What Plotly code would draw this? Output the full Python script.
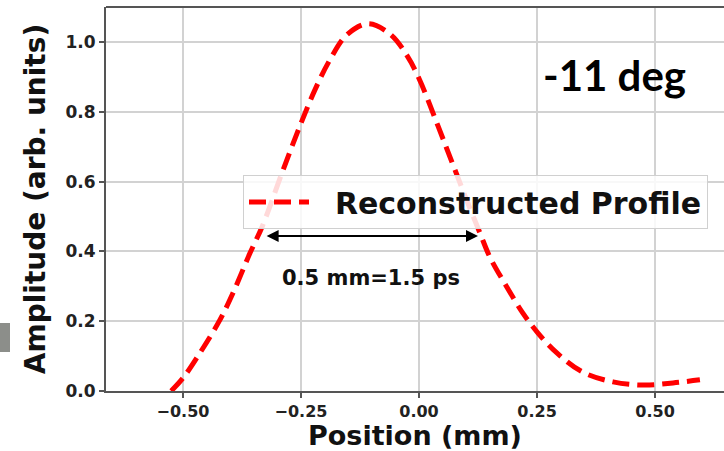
import plotly.graph_objects as go

# Data
pos_mm = [-0.525, -0.5, -0.464, -0.422, -0.394, -0.358, -0.331, -0.288, -0.25, -0.22,
          -0.189, -0.153, -0.108, -0.061, -0.025, 0.0, 0.04, 0.07, 0.10, 0.129,
          0.150, 0.186, 0.220, 0.252, 0.292, 0.347, 0.411, 0.475, 0.538, 0.595]
amplitude = [0.0, 0.037, 0.109, 0.203, 0.281, 0.395, 0.475, 0.633, 0.767, 0.864,
             0.948, 1.02, 1.052, 1.022, 0.96, 0.895, 0.76, 0.655, 0.55, 0.453,
             0.384, 0.298, 0.223, 0.166, 0.109, 0.054, 0.026, 0.017, 0.023, 0.032]

x_ticks = [-0.50, -0.25, 0.00, 0.25, 0.50]
x_tick_labels = ["\u22120.50", "\u22120.25", "0.00", "0.25", "0.50"]
y_ticks = [0.0, 0.2, 0.4, 0.6, 0.8, 1.0]
y_tick_labels = ["0.0", "0.2", "0.4", "0.6", "0.8", "1.0"]

arrow_start = -0.326
arrow_end = 0.125
arrow_level = 0.444

FONT = "DejaVu Sans"

fig = go.Figure()
fig.add_trace(go.Scatter(
    x=pos_mm, y=amplitude, mode="lines",
    name="\u00a0\u00a0Reconstructed Profile",
    line=dict(color="#ff0000", width=5, dash="17px,8px", shape="spline"),
))

fig.update_layout(
    width=724, height=451,
    margin=dict(l=106, r=0, t=7, b=60),
    paper_bgcolor="white", plot_bgcolor="white",
    showlegend=True,
    legend=dict(
        x=(243 - 106) / 618, y=(391 - 175) / 384, xanchor="left", yanchor="top",
        bgcolor="rgba(255,255,255,0.85)", bordercolor="#d0d0d0", borderwidth=1,
        font=dict(family=FONT, size=30, color="#111", weight="bold"),
        itemwidth=60,
    ),
    xaxis=dict(
        range=[-0.663, 0.646], tickvals=x_ticks, ticktext=x_tick_labels,
        showgrid=True, gridcolor="#d2d2d2", gridwidth=1.5,
        showline=True, linecolor="#555", linewidth=2,
        ticks="outside", ticklen=5, tickwidth=1.5, tickcolor="#555",
        tickfont=dict(family=FONT, size=16, color="#222", weight="bold"),
        title=dict(text="Position (mm)", standoff=12,
                   font=dict(family=FONT, size=27, color="#111", weight="bold")),
        zeroline=False,
    ),
    yaxis=dict(
        range=[0, 1.1], tickvals=y_ticks, ticktext=y_tick_labels,
        showgrid=True, gridcolor="#d2d2d2", gridwidth=1.5,
        showline=True, linecolor="#555", linewidth=2,
        ticks="outside", ticklen=5, tickwidth=1.5, tickcolor="#555",
        tickfont=dict(family=FONT, size=17, color="#222", weight="bold"),
        title=dict(text="Amplitude (arb. units)", standoff=12,
                   font=dict(family=FONT, size=28, color="#111", weight="bold")),
        zeroline=False,
    ),
)

# top spine
fig.add_shape(type="line", xref="paper", yref="paper", x0=0, x1=1, y0=1, y1=1,
              line=dict(color="#555", width=2))
# grey slide artifact at the far left
fig.add_shape(type="rect", xref="paper", yref="paper",
              x0=-106 / 618, x1=(10 - 106) / 618,
              y0=(391 - 352) / 384, y1=(391 - 323) / 384,
              fillcolor="#8c8e8a", line=dict(width=0), layer="above")

# double-headed arrow
fig.add_annotation(x=arrow_end, y=arrow_level, ax=arrow_start, ay=arrow_level,
                   xref="x", yref="y", axref="x", ayref="y", text="",
                   showarrow=True, arrowhead=2, startarrowhead=2, arrowside="end+start",
                   arrowwidth=2, arrowsize=1.2, startarrowsize=1.2, arrowcolor="black")
fig.add_annotation(x=-0.102, y=0.324, xref="x", yref="y", text="0.5 mm=1.5 ps",
                   showarrow=False,
                   font=dict(family=FONT, size=21, color="#111", weight="bold"))
fig.add_annotation(x=0.415, y=0.905, xref="x", yref="y", text="-11 deg",
                   showarrow=False,
                   font=dict(family="Lato", size=42, color="black", weight="bold"))

fig.write_html("out.html")
